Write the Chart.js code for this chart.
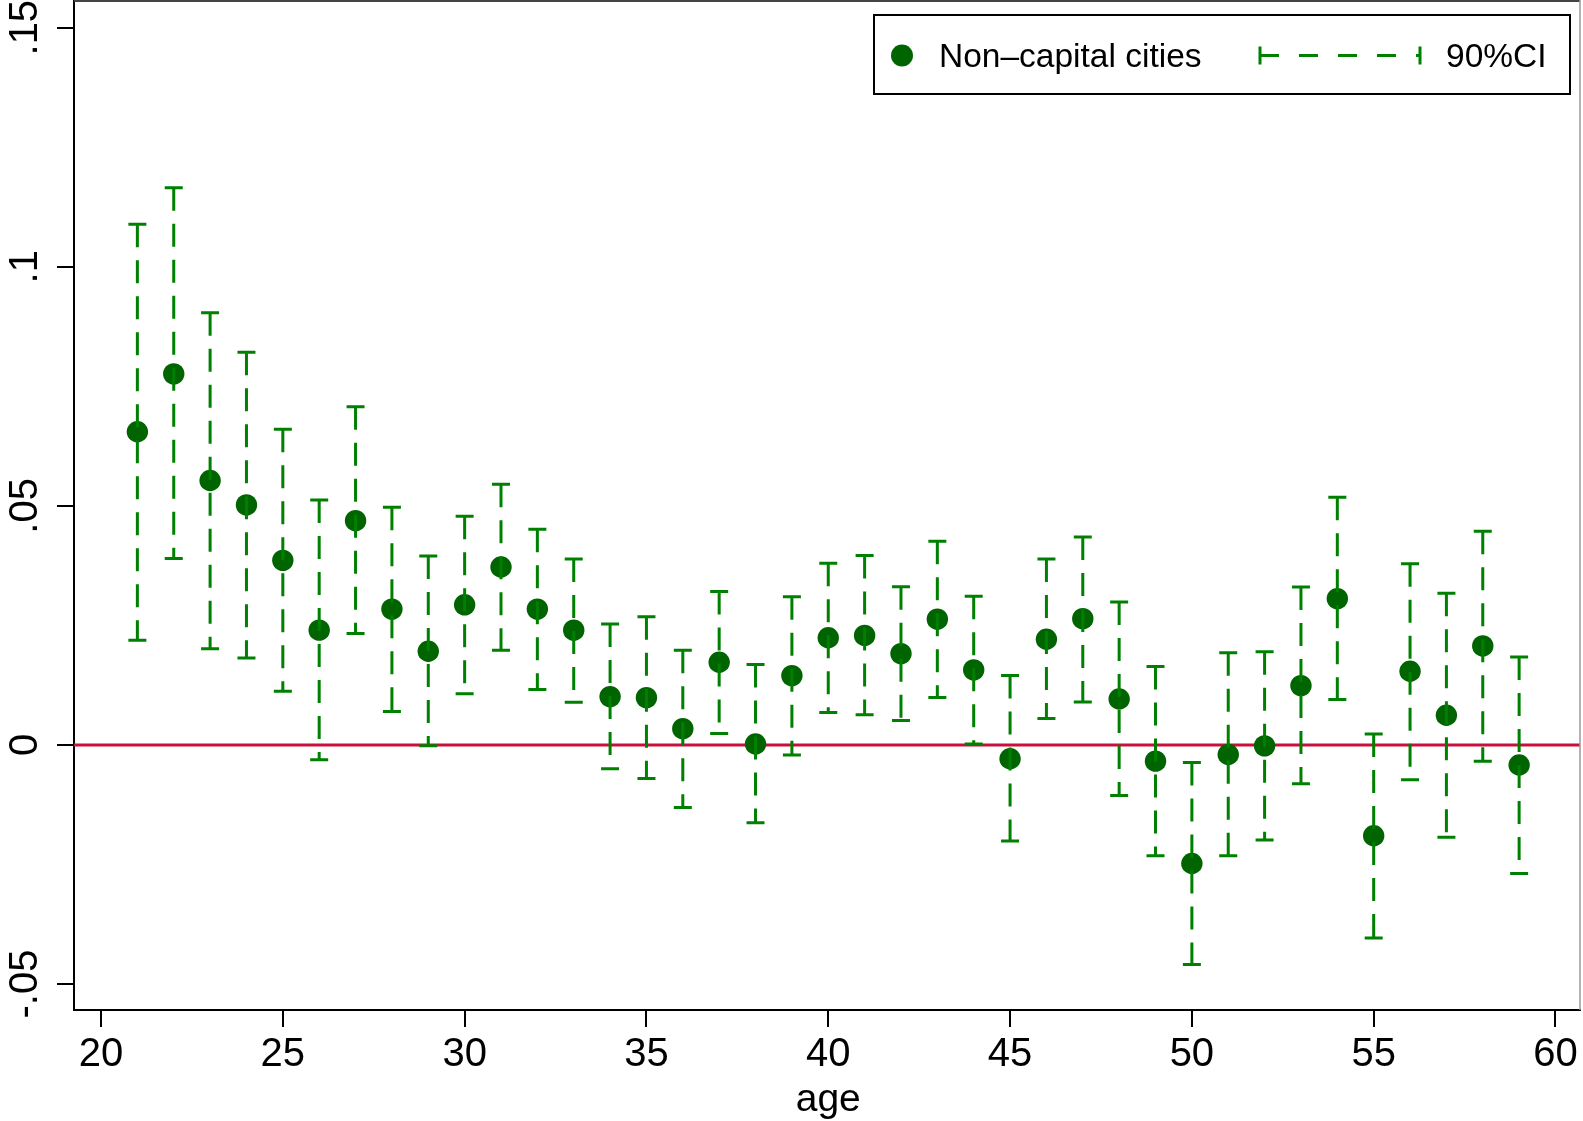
<!DOCTYPE html>
<html>
<head>
<meta charset="utf-8">
<title>Non-capital cities by age</title>
<script src="https://cdn.jsdelivr.net/npm/chart.js@4/dist/chart.umd.min.js"></script>
<style>
  html, body { margin: 0; padding: 0; background: #ffffff; }
  #wrap { width: 1583px; height: 1121px; }
</style>
</head>
<body>
<div id="wrap"><canvas id="ageChart" width="1583" height="1121"></canvas></div>
<script>
// Ages on the x axis
const ages = [21, 22, 23, 24, 25, 26, 27, 28, 29, 30,
              31, 32, 33, 34, 35, 36, 37, 38, 39, 40,
              41, 42, 43, 44, 45, 46, 47, 48, 49, 50,
              51, 52, 53, 54, 55, 56, 57, 58, 59];

// Point estimates (Non-capital cities)
const coef = [0.0655, 0.0776, 0.0553, 0.0502, 0.0386, 0.0240, 0.0469, 0.0284, 0.0196, 0.0293,
              0.0372, 0.0284, 0.0240, 0.0101, 0.0099, 0.0034, 0.0173, 0.0002, 0.0145, 0.0224,
              0.0229, 0.0191, 0.0263, 0.0157, -0.0029, 0.0221, 0.0264, 0.0096, -0.0034, -0.0248,
              -0.0020, -0.0002, 0.0124, 0.0306, -0.0190, 0.0154, 0.0062, 0.0207, -0.0042];

// 90% CI upper bounds
const ciHigh = [0.1089, 0.1165, 0.0904, 0.0821, 0.0660, 0.0512, 0.0707, 0.0497, 0.0395, 0.0478,
                0.0545, 0.0451, 0.0389, 0.0253, 0.0268, 0.0198, 0.0321, 0.0168, 0.0310, 0.0380,
                0.0396, 0.0331, 0.0426, 0.0311, 0.0145, 0.0389, 0.0435, 0.0299, 0.0164, -0.0037,
                0.0193, 0.0195, 0.0330, 0.0518, 0.0023, 0.0379, 0.0317, 0.0447, 0.0184];

// 90% CI lower bounds
const ciLow = [0.0219, 0.0390, 0.0201, 0.0182, 0.0112, -0.0031, 0.0233, 0.0070, -0.0002, 0.0107,
               0.0198, 0.0116, 0.0089, -0.0050, -0.0070, -0.0131, 0.0024, -0.0163, -0.0021, 0.0068,
               0.0063, 0.0051, 0.0099, 0.0002, -0.0201, 0.0055, 0.0090, -0.0106, -0.0232, -0.0459,
               -0.0232, -0.0199, -0.0081, 0.0095, -0.0404, -0.0073, -0.0193, -0.0034, -0.0269];

// Tick values and labels
const xTicks = [20, 25, 30, 35, 40, 45, 50, 55, 60];
const yTicks = [-0.05, 0, 0.05, 0.1, 0.15];
const yTickLabels = ['-.05', '0', '.05', '.1', '.15'];

const seriesLabel = 'Non\u2013capital cities';
const ciLabel = '90%CI';
const xTitle = 'age';

const FONT = '"Liberation Sans", Arial, Helvetica, sans-serif';
const MARKER_GREEN = '#006400';
const CI_GREEN = '#008000';
const ZERO_RED = '#c8103c';

/**
 * Zero reference line, drawn under the markers
 */
const zeroLine = {
  id: 'zeroLine',
  beforeDatasetsDraw(chart) {
    const { ctx, chartArea, scales } = chart;
    const y = scales.y.getPixelForValue(0);
    ctx.save();
    ctx.strokeStyle = ZERO_RED;
    ctx.lineWidth = 3;
    ctx.beginPath();
    ctx.moveTo(chartArea.left, y);
    ctx.lineTo(chartArea.right, y);
    ctx.stroke();
    ctx.restore();
  }
};

/**
 * Dashed capped CI bars, drawn over the markers
 */
const ciBars = {
  id: 'ciBars',
  afterDatasetsDraw(chart) {
    const { ctx, scales } = chart;
    const capHalf = 9;
    ctx.save();
    ctx.strokeStyle = CI_GREEN;
    ctx.lineWidth = 3;
    ages.forEach((age, i) => {
      const x = scales.x.getPixelForValue(age);
      const yHi = scales.y.getPixelForValue(ciHigh[i]);
      const yLo = scales.y.getPixelForValue(ciLow[i]);

      // dashed stem from top down
      ctx.setLineDash([23, 13]);
      ctx.beginPath();
      ctx.moveTo(x, yHi);
      ctx.lineTo(x, yLo);
      ctx.stroke();

      // caps
      ctx.setLineDash([]);
      ctx.beginPath();
      ctx.moveTo(x - capHalf, yHi);
      ctx.lineTo(x + capHalf, yHi);
      ctx.moveTo(x - capHalf, yLo);
      ctx.lineTo(x + capHalf, yLo);
      ctx.stroke();
    });
    ctx.restore();
  }
};

/**
 * Texts, frame and legend
 */
const decorations = {
  id: 'decorations',
  afterDraw(chart) {
    const { ctx, chartArea, scales } = chart;
    ctx.save();

    // plot region frame (top and right)
    ctx.strokeStyle = '#444444';
    ctx.lineWidth = 2;
    ctx.beginPath();
    ctx.moveTo(chartArea.left, chartArea.top + 1);
    ctx.lineTo(chartArea.right, chartArea.top + 1);
    ctx.stroke();
    ctx.strokeStyle = '#9a9a9a';
    ctx.lineWidth = 1.5;
    ctx.beginPath();
    ctx.moveTo(chartArea.right, chartArea.top);
    ctx.lineTo(chartArea.right, chartArea.bottom);
    ctx.stroke();

    ctx.fillStyle = '#000000';

    // x tick labels
    ctx.font = '40px ' + FONT;
    ctx.textAlign = 'center';
    ctx.textBaseline = 'alphabetic';
    xTicks.forEach(v => {
      ctx.fillText(String(v), scales.x.getPixelForValue(v), 1066);
    });

    // x title
    ctx.font = '39px ' + FONT;
    ctx.fillText(xTitle, scales.x.getPixelForValue(40), 1111);

    // y tick labels, rotated
    ctx.font = '40px ' + FONT;
    yTicks.forEach((v, i) => {
      ctx.save();
      ctx.translate(37, scales.y.getPixelForValue(v));
      ctx.rotate(-Math.PI / 2);
      ctx.fillText(yTickLabels[i], 0, 0);
      ctx.restore();
    });

    // legend box
    const box = { left: 874, top: 15, right: 1570, bottom: 94 };
    const midY = 55.5;
    ctx.fillStyle = '#ffffff';
    ctx.fillRect(box.left, box.top, box.right - box.left, box.bottom - box.top);
    ctx.strokeStyle = '#000000';
    ctx.lineWidth = 2;
    ctx.strokeRect(box.left, box.top, box.right - box.left, box.bottom - box.top);

    ctx.fillStyle = MARKER_GREEN;
    ctx.beginPath();
    ctx.arc(902, midY, 11, 0, Math.PI * 2);
    ctx.fill();

    ctx.fillStyle = '#000000';
    ctx.font = '33.5px ' + FONT;
    ctx.textAlign = 'left';
    ctx.fillText(seriesLabel, 939, 67);
    ctx.fillText(ciLabel, 1446, 67);

    // legend CI symbol
    ctx.strokeStyle = CI_GREEN;
    ctx.lineWidth = 3;
    ctx.setLineDash([19, 20]);
    ctx.beginPath();
    ctx.moveTo(1260, midY);
    ctx.lineTo(1420, midY);
    ctx.stroke();
    ctx.setLineDash([]);
    ctx.beginPath();
    ctx.moveTo(1260, midY - 9);
    ctx.lineTo(1260, midY + 9);
    ctx.moveTo(1420, midY - 9);
    ctx.lineTo(1420, midY + 9);
    ctx.stroke();

    ctx.restore();
  }
};

const ctx = document.getElementById('ageChart').getContext('2d');

const chart = new Chart(ctx, {
  type: 'scatter',
  data: {
    datasets: [{
      label: seriesLabel,
      data: ages.map((a, i) => ({ x: a, y: coef[i] })),
      pointRadius: 10.7,
      pointHoverRadius: 10.7,
      backgroundColor: MARKER_GREEN,
      borderWidth: 0
    }]
  },
  options: {
    responsive: false,
    animation: false,
    devicePixelRatio: 1,
    layout: { autoPadding: false, padding: { left: 0, top: 0, right: 3, bottom: 0 } },
    plugins: {
      legend: { display: false },
      tooltip: { enabled: false }
    },
    scales: {
      x: {
        type: 'linear',
        min: 19.257,
        max: 60.674,
        afterBuildTicks: axis => { axis.ticks = xTicks.map(v => ({ value: v })); },
        afterFit: axis => { axis.height = 111; },
        ticks: { display: false },
        grid: { drawOnChartArea: false, drawTicks: true, tickLength: 17, color: '#000000', lineWidth: 2 },
        border: { display: true, color: '#000000', width: 2 }
      },
      y: {
        type: 'linear',
        min: -0.05544,
        max: 0.15579,
        afterBuildTicks: axis => { axis.ticks = yTicks.map(v => ({ value: v })); },
        afterFit: axis => { axis.width = 74; },
        ticks: { display: false },
        grid: { drawOnChartArea: false, drawTicks: true, tickLength: 17, color: '#000000', lineWidth: 2 },
        border: { display: true, color: '#000000', width: 2 }
      }
    }
  },
  plugins: [zeroLine, ciBars, decorations]
});
</script>
</body>
</html>
